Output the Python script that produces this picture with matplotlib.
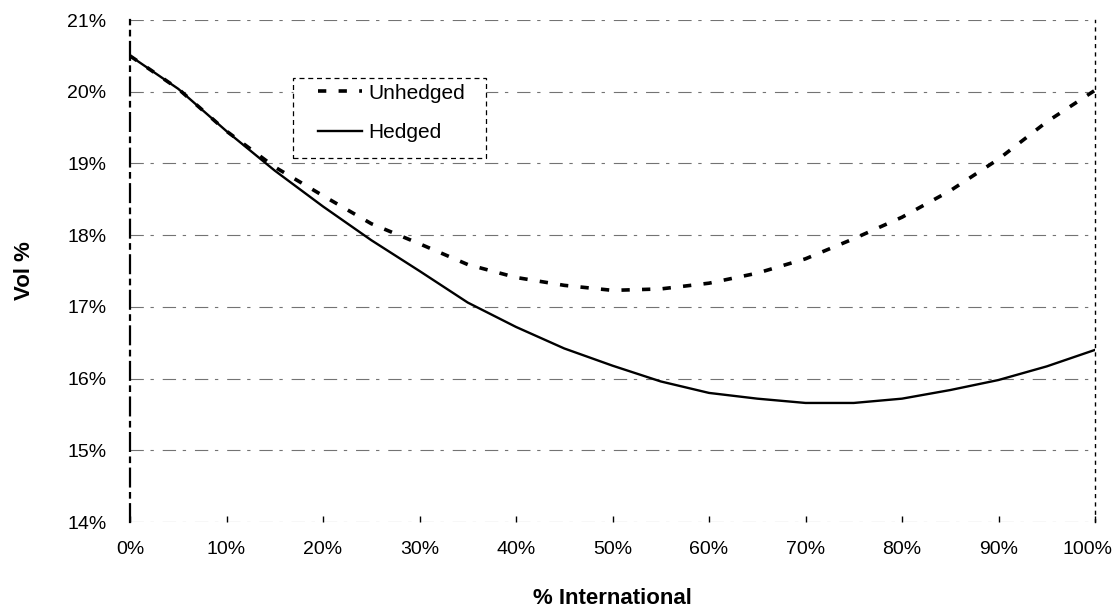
import matplotlib
matplotlib.use("Agg")
import matplotlib.pyplot as plt
from matplotlib.ticker import FuncFormatter
from matplotlib.patches import Rectangle
from matplotlib.transforms import ScaledTranslation

plt.rcParams['font.family'] = ['Liberation Sans', 'DejaVu Sans']

# Data
intl_pct = [0, 5, 10, 15, 20, 25, 30, 35, 40, 45, 50, 55, 60, 65, 70, 75, 80, 85, 90, 95, 100]
unhedged = [20.50, 20.04, 19.45, 18.95, 18.55, 18.16, 17.88, 17.59, 17.41, 17.30, 17.23,
            17.25, 17.33, 17.47, 17.67, 17.95, 18.25, 18.62, 19.06, 19.58, 20.02]
hedged = [20.50, 20.04, 19.45, 18.90, 18.40, 17.93, 17.50, 17.06, 16.72, 16.42, 16.18,
          15.96, 15.80, 15.72, 15.66, 15.66, 15.72, 15.84, 15.98, 16.17, 16.40]
x_ticks = [0, 10, 20, 30, 40, 50, 60, 70, 80, 90, 100]
y_ticks = [14, 15, 16, 17, 18, 19, 20, 21]
series_labels = ["Unhedged", "Hedged"]
x_label = "% International"
y_label = "Vol %"

fig = plt.figure(figsize=(11.16, 6.10), dpi=100)
ax = fig.add_axes([130 / 1116, 1 - 522 / 610, 965 / 1116, 502 / 610])

# gridlines (broken look as in the scan)
for yv in y_ticks:
    ax.axhline(yv, color='0.45', lw=0.8, ls=(0, (12, 6, 3, 8)), zorder=1)

ax.plot(intl_pct, unhedged, color='black', lw=2.6, ls=(0, (2.3, 3.4)),
        label=series_labels[0], zorder=3)
ax.plot(intl_pct, hedged, color='black', lw=1.7, ls='-',
        label=series_labels[1], zorder=3)

ax.set_xlim(0, 100)
ax.set_ylim(14, 21)
ax.set_xticks(x_ticks)
ax.set_yticks(y_ticks)
ax.xaxis.set_major_formatter(FuncFormatter(lambda v, p: f"{int(round(v))}%"))
ax.yaxis.set_major_formatter(FuncFormatter(lambda v, p: f"{int(round(v))}%"))
ax.tick_params(axis='x', direction='in', length=4, width=1, pad=14, labelsize=14)
ax.tick_params(axis='y', length=0, pad=17, labelsize=14)

# nudge the last x tick label left so it stays inside the figure
last = ax.get_xticklabels()[-1]
last.set_transform(last.get_transform() + ScaledTranslation(-8 / 100, 0, fig.dpi_scale_trans))

for s in ['top', 'bottom']:
    ax.spines[s].set_visible(False)
ax.spines['left'].set_linewidth(1.6)
ax.spines['left'].set_linestyle((0, (8, 3, 2, 3)))
ax.spines['right'].set_linewidth(1.0)
ax.spines['right'].set_linestyle((0, (2, 4)))

ax.set_xlabel(x_label, fontsize=16, fontweight='bold', labelpad=21)
ax.set_ylabel(y_label, fontsize=16, fontweight='bold', labelpad=23)

# legend box
ax.add_patch(Rectangle((0.1689, 0.7251), 0.2, 0.1594, transform=ax.transAxes,
                       fill=True, facecolor='white', edgecolor='black', lw=0.9,
                       ls=(0, (4, 3)), zorder=4))
leg = ax.legend(loc='center left', bbox_to_anchor=(0.1948, 0.8147), borderaxespad=0,
                fontsize=15, handlelength=2.1, handletextpad=0.3, labelspacing=1.0,
                borderpad=0, frameon=False)
leg.set_zorder(5)

fig.savefig("out.png", dpi=100)
